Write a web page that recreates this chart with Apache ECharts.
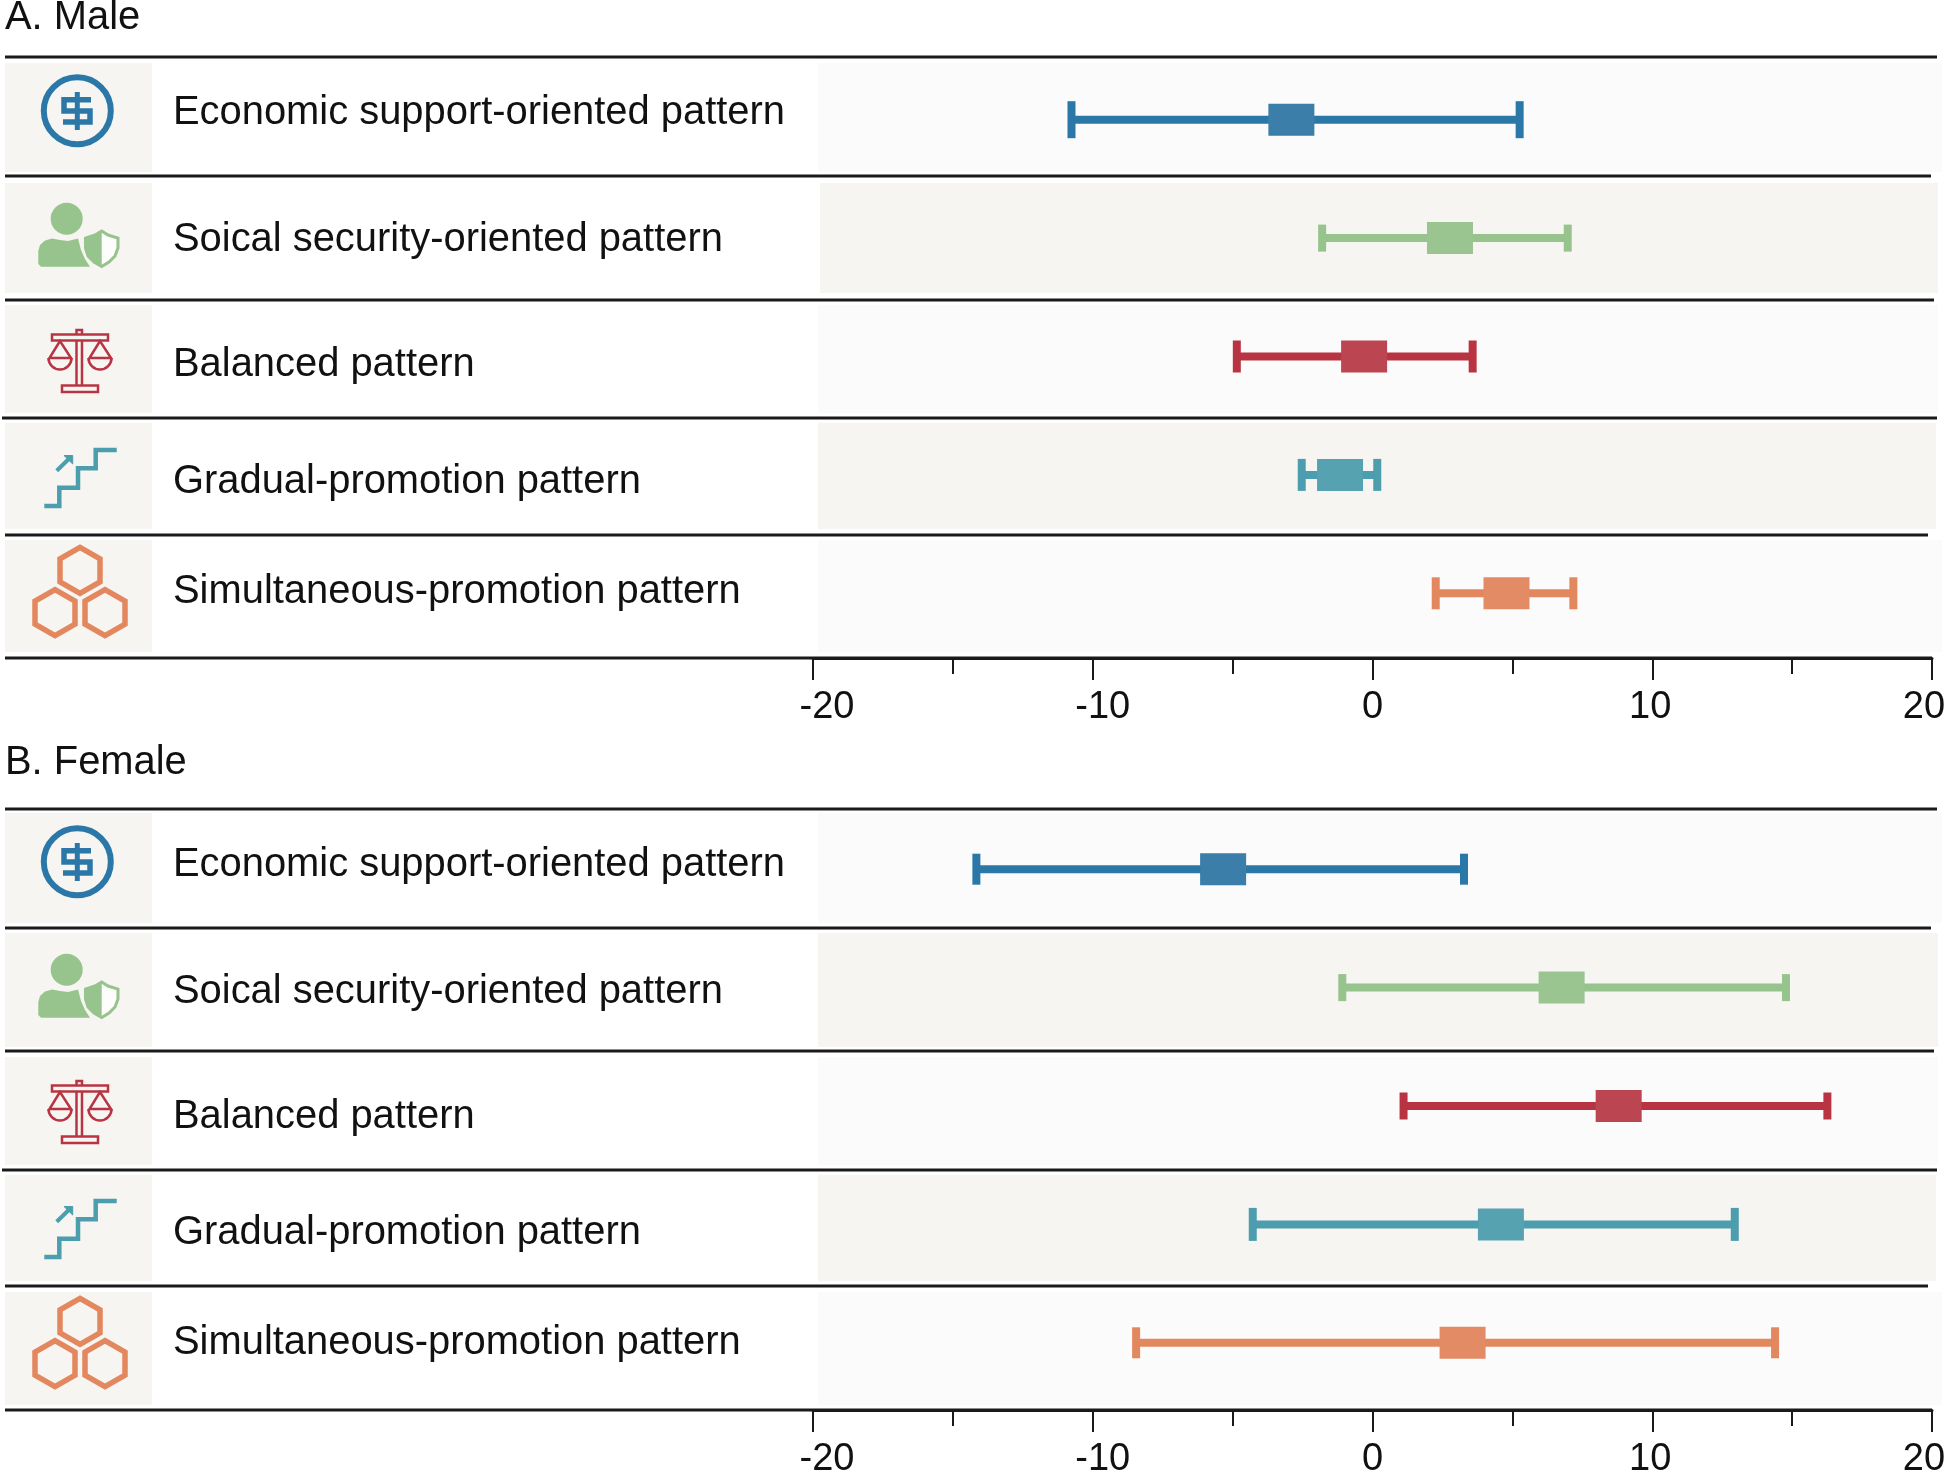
<!DOCTYPE html>
<html lang="en">
	<head>
		<meta charset="UTF-8" />
		<title>Pattern effects by sex</title>
		<script src="https://cdn.jsdelivr.net/npm/echarts"></script>
		<style>
			html, body { margin: 0; padding: 0; background: #fff; }
		</style>
	</head>
	<body>
		<div id="myChart" style="width: 1944px; height: 1473px"></div>

		<script>
			const patterns = [
				"Economic support-oriented pattern",
				"Soical security-oriented pattern",
				"Balanced pattern",
				"Gradual-promotion pattern",
				"Simultaneous-promotion pattern",
			];
			const maleLow = [-10.76, -1.8, -4.85, -2.53, 2.26];
			const maleMean = [-2.9, 2.77, -0.3, -1.16, 4.79];
			const maleHigh = [5.26, 6.98, 3.58, 0.17, 7.18];
			const femaleLow = [-14.16, -1.08, 1.11, -4.28, -8.45];
			const femaleMean = [-5.34, 6.76, 8.8, 4.59, 3.22];
			const femaleHigh = [3.27, 14.78, 16.26, 12.95, 14.39];
			const tickLabels = { "-20": "{a|-20}", "-10": "{b|-10}", 0: "{c|0}", 10: "{d|10}", 20: "{e|20}" };

			const colors = ["#2b78a8", "#97c48c", "#b93443", "#4c9dae", "#e2875e"];
			const boxColors = ["#3a7ea9", "#9ac490", "#bc4552", "#57a2b1", "#e38b64"];
			const textColor = "#111";
			const panelGrey = "#f6f5f1";
			const panelLight = "#fbfbfb";
			const font = '39.9px "Liberation Sans", Arial, sans-serif';

			const maleCaps = [37, 27, 32, 32, 32];
			const femaleCaps = [31, 27, 27, 33, 31];

			const maleRules = [57, 176, 300, 418, 535, 658];
			const femaleRules = [809, 928, 1051, 1170, 1286, 1410];
			const ruleEnds = [1937, 1931, 1934, 1937, 1928, 1932];
			const ruleStarts = [5, 5, 5, 2, 5, 5];
			const maleCells = [[63, 172], [183, 293], [305, 413], [423, 529], [540, 652]];
			const femaleCells = [[813, 923], [933, 1047], [1057, 1165], [1175, 1281], [1292, 1405]];
			const maleCellStarts = [818, 820, 818, 818, 818];
			const femaleCellStarts = [818, 818, 818, 818, 818];
			const cellEnds = [1942, 1938, 1938, 1936, 1942];
			const maleBaselines = [123, 250, 375, 492, 602];
			const femaleBaselines = [875, 1002, 1127, 1243, 1353];

			function whiskerSeries(gridIndex, low, mean, high, caps) {
				return {
					type: "custom",
					xAxisIndex: gridIndex,
					yAxisIndex: gridIndex,
					z: 4,
					data: patterns.map((name, i) => [low[i], mean[i], high[i], i]),
					encode: { x: [0, 1, 2], y: 3 },
					renderItem: function (params, api) {
						const row = api.value(3);
						const lo = api.coord([api.value(0), row]);
						const mid = api.coord([api.value(1), row]);
						const hi = api.coord([api.value(2), row]);
						const y = lo[1];
						const rect = (x, yy, w, h, fill) => ({
							type: "rect",
							shape: { x: x, y: yy, width: w, height: h },
							style: { fill: fill },
						});
						return {
							type: "group",
							children: [
								rect(lo[0], y - 4, hi[0] - lo[0], 8, colors[row]),
								rect(lo[0] - 4, y - caps[row] / 2, 8, caps[row], colors[row]),
								rect(hi[0] - 4, y - caps[row] / 2, 8, caps[row], colors[row]),
								rect(mid[0] - 23, y - 16, 46, 32, boxColors[row]),
							],
						};
					},
				};
			}

			function rectEl(x, y, w, h, fill) {
				return { type: "rect", z: -1, silent: true, shape: { x: x, y: y, width: w, height: h }, style: { fill: fill } };
			}

			function textEl(text, x, baseline) {
				return {
					type: "text",
					z: 5,
					silent: true,
					style: { text: text, x: x, y: baseline - 10.5, font: font, fill: textColor, verticalAlign: "middle", align: "left" },
				};
			}

			// icons are drawn at their male-panel position, dy moves them down
			function polyEl(points, dy, stroke, fill, width, closed) {
				return {
					type: closed ? "polygon" : "polyline",
					z: 5,
					silent: true,
					y: dy,
					shape: { points: points },
					style: { stroke: stroke, fill: fill || null, lineWidth: width, lineCap: "butt" },
				};
			}

			function circleEl(cx, cy, r, dy, stroke, fill, width) {
				return {
					type: "circle",
					z: 5,
					silent: true,
					y: dy,
					shape: { cx: cx, cy: cy, r: r },
					style: { stroke: stroke, fill: fill || null, lineWidth: width },
				};
			}

			function panArc(cx, cy, r, dy, stroke) {
				return {
					type: "arc",
					z: 5,
					silent: true,
					y: dy,
					shape: { cx: cx, cy: cy, r: r, startAngle: 0, endAngle: Math.PI, clockwise: true },
					style: { stroke: stroke, fill: null, lineWidth: 2.5 },
				};
			}

			function hexagon(cx, cy) {
				const w = 20;
				const h = 23;
				return [[cx, cy - h], [cx + w, cy - h / 2], [cx + w, cy + h / 2], [cx, cy + h], [cx - w, cy + h / 2], [cx - w, cy - h / 2]];
			}

			function icons(dy) {
				const blue = colors[0];
				const green = colors[1];
				const red = colors[2];
				const teal = colors[3];
				const orange = colors[4];
				const body = [[41, 266.7], [38.3, 264], [38.3, 251], [40, 245], [45, 240.5], [52, 238.5], [60, 240], [68, 241], [78, 238.5], [81, 250], [85, 259], [90, 266.7]];
				const shield = [[101.7, 231], [108, 235], [118, 238], [118, 248], [115, 256], [109, 262], [101.7, 266.5], [94, 262], [88, 256], [85.5, 248], [85.5, 238], [95, 235]];
				const shieldLeft = [[101.7, 231], [101.7, 266.5], [94, 262], [88, 256], [85.5, 248], [85.5, 238], [95, 235]];
				return [
					// coin
					circleEl(77.3, 110.7, 33.5, dy, blue, null, 6),
					polyEl([[91, 99.7], [64, 99.7], [64, 111], [90, 111], [90, 122], [63, 122]], dy, blue, null, 5.5),
					polyEl([[77.3, 92], [77.3, 130]], dy, blue, null, 5),
					// person with shield
					circleEl(66.7, 218.7, 16, dy, null, green, 0),
					polyEl(body, dy, null, green, 0, true),
					polyEl(shield, dy, green, "#fdfdfb", 3, true),
					polyEl(shieldLeft, dy, null, green, 0, true),
					// scales
					polyEl([[52, 334.5], [108, 334.5], [108, 340.5], [52, 340.5]], dy, red, null, 2.5, true),
					polyEl([[76.5, 340.5], [76.5, 385]], dy, red, null, 2.5),
					polyEl([[82, 340.5], [82, 385]], dy, red, null, 2.5),
					polyEl([[76.5, 334], [76.5, 330], [82, 330], [82, 334]], dy, red, null, 2.5),
					polyEl([[62, 385.5], [98, 385.5], [98, 392], [62, 392]], dy, red, null, 2.5, true),
					polyEl([[60, 341], [49.5, 358], [71, 358]], dy, red, null, 2.5, true),
					polyEl([[100, 341], [89.5, 358], [111, 358]], dy, red, null, 2.5, true),
					panArc(60, 358, 11.5, dy, red),
					panArc(100, 358, 11.5, dy, red),
					// stairs
					polyEl([[44.3, 506], [59.3, 506], [59.3, 487.7], [78, 487.7], [78, 468.3], [95.7, 468.3], [95.7, 450], [116.7, 450]], dy, teal, null, 4.5),
					polyEl([[56.7, 470.7], [70, 457.7]], dy, teal, null, 4),
					polyEl([[64, 455.5], [72.7, 455.5], [72.7, 464]], dy, teal, teal, 1, true),
					// hexagons
					polyEl(hexagon(80, 570.3), dy, orange, null, 5.5, true),
					polyEl(hexagon(55, 612.7), dy, orange, null, 5.5, true),
					polyEl(hexagon(105, 612.7), dy, orange, null, 5.5, true),
				];
			}

			function panelGraphics(rules, cells, starts, baselines, dy) {
				const els = [];
				cells.forEach((cell, i) => {
					const h = cell[1] - cell[0];
					els.push(rectEl(5, cell[0], 147, h, panelGrey));
					els.push(rectEl(starts[i], cell[0], cellEnds[i] - starts[i], h, i % 2 === 1 ? panelGrey : panelLight));
					els.push(textEl(patterns[i], 173, baselines[i]));
				});
				rules.forEach((y, i) => {
					els.push({
						type: "line",
						z: 3,
						silent: true,
						shape: { x1: ruleStarts[i], y1: y, x2: ruleEnds[i], y2: y },
						style: { stroke: "#1a1a1a", lineWidth: 3 },
					});
				});
				return els.concat(icons(dy));
			}

			function valueAxis(gridIndex, offset) {
				return {
					type: "value",
					gridIndex: gridIndex,
					min: -20,
					max: 20,
					interval: 10,
					position: "bottom",
					offset: offset,
					splitLine: { show: false },
					axisLine: { show: true, onZero: false, lineStyle: { color: "#1a1a1a", width: 3 } },
					axisTick: { show: true, length: 22, lineStyle: { color: "#1a1a1a", width: 2 } },
					minorTick: { show: true, splitNumber: 2, length: 16, lineStyle: { color: "#1a1a1a", width: 2 } },
					axisLabel: {
						margin: 31,
						color: textColor,
						fontFamily: "Liberation Sans",
						fontSize: 38,
						hideOverlap: false,
						showMinLabel: true,
						showMaxLabel: true,
						formatter: (v) => tickLabels[v],
						rich: {
							a: { fontFamily: "Liberation Sans", fontSize: 38, color: textColor, padding: [0, 0, 0, 28] },
							b: { fontFamily: "Liberation Sans", fontSize: 38, color: textColor, padding: [0, 0, 0, 20] },
							c: { fontFamily: "Liberation Sans", fontSize: 38, color: textColor },
							d: { fontFamily: "Liberation Sans", fontSize: 38, color: textColor, padding: [0, 4, 0, 0] },
							e: { fontFamily: "Liberation Sans", fontSize: 38, color: textColor, padding: [0, 16, 0, 0] },
						},
					},
				};
			}

			function rowAxis(gridIndex) {
				return { type: "category", gridIndex: gridIndex, data: patterns, inverse: true, show: false };
			}

			const chartContainer = document.getElementById("myChart");
			const myChart = echarts.init(chartContainer);

			const option = {
				animation: false,
				backgroundColor: "#fff",
				grid: [
					{ left: 813, width: 1119, top: 60.5, height: 592, outerBoundsMode: "none" },
					{ left: 813, width: 1119, top: 810, height: 592, outerBoundsMode: "none" },
				],
				xAxis: [valueAxis(0, 5.5), valueAxis(1, 8)],
				yAxis: [rowAxis(0), rowAxis(1)],
				series: [
					whiskerSeries(0, maleLow, maleMean, maleHigh, maleCaps),
					whiskerSeries(1, femaleLow, femaleMean, femaleHigh, femaleCaps),
				],
				graphic: {
					elements: [
						textEl("A. Male", 5, 28),
						textEl("B. Female", 5, 773),
					]
						.concat(panelGraphics(maleRules, maleCells, maleCellStarts, maleBaselines, 0))
						.concat(panelGraphics(femaleRules, femaleCells, femaleCellStarts, femaleBaselines, 751)),
				},
			};

			myChart.setOption(option);

			window.addEventListener("resize", function () {
				myChart.resize();
			});
		</script>
	</body>
</html>
